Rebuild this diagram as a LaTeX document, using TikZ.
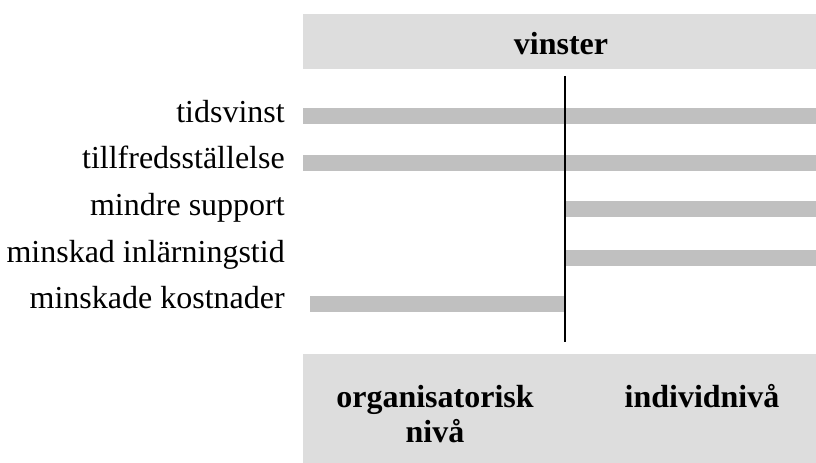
\documentclass[tikz,border=0pt]{standalone}
\usepackage{fontspec}
\setmainfont{Liberation Serif}
\definecolor{panelgray}{HTML}{DDDDDD}
\definecolor{bargray}{HTML}{C0C0C0}
\begin{document}
\begin{tikzpicture}[x=0.75pt,y=-0.75pt,
  panel/.style={fill=panelgray},
  bar/.style={fill=bargray},
  rowlabel/.style={anchor=base east,inner sep=0pt,font=\fontsize{24}{28}\selectfont},
  head/.style={anchor=base,inner sep=0pt,font=\fontsize{24}{26.25}\selectfont\bfseries,align=center}]
\useasboundingbox (0,0) rectangle (816,463);

% header and footer panels
\fill[panel] (303,14) rectangle (816,69);
\fill[panel] (303,354) rectangle (816,463);
\node[head] (vinster) at (561,55) {vinster};
% a multi-line node sits on the baseline of its last line
\node[head] (org) at (435,442) {organisatorisk\\nivå};
\node[head] (ind) at (702,407) {individnivå};

% benefit bars
\fill[bar] (303,108) rectangle (816,124);
\fill[bar] (303,155) rectangle (816,171);
\fill[bar] (564,201) rectangle (816,217);
\fill[bar] (564,250) rectangle (816,266);
\fill[bar] (310,296) rectangle (565,312);

% row labels
\node[rowlabel] (l1) at (285,123) {tidsvinst};
\node[rowlabel] (l2) at (285,169) {tillfredsställelse};
\node[rowlabel] (l3) at (285,215) {mindre support};
\node[rowlabel] (l4) at (285,262) {minskad inlärningstid};
\node[rowlabel] (l5) at (285,308) {minskade kostnader};

% divider between organisational and individual level
\coordinate (dtop) at (564.5,76);
\coordinate (dbot) at (564.5,342);
\draw[line width=1.5pt] (dtop) -- (dbot);
\end{tikzpicture}
\end{document}
